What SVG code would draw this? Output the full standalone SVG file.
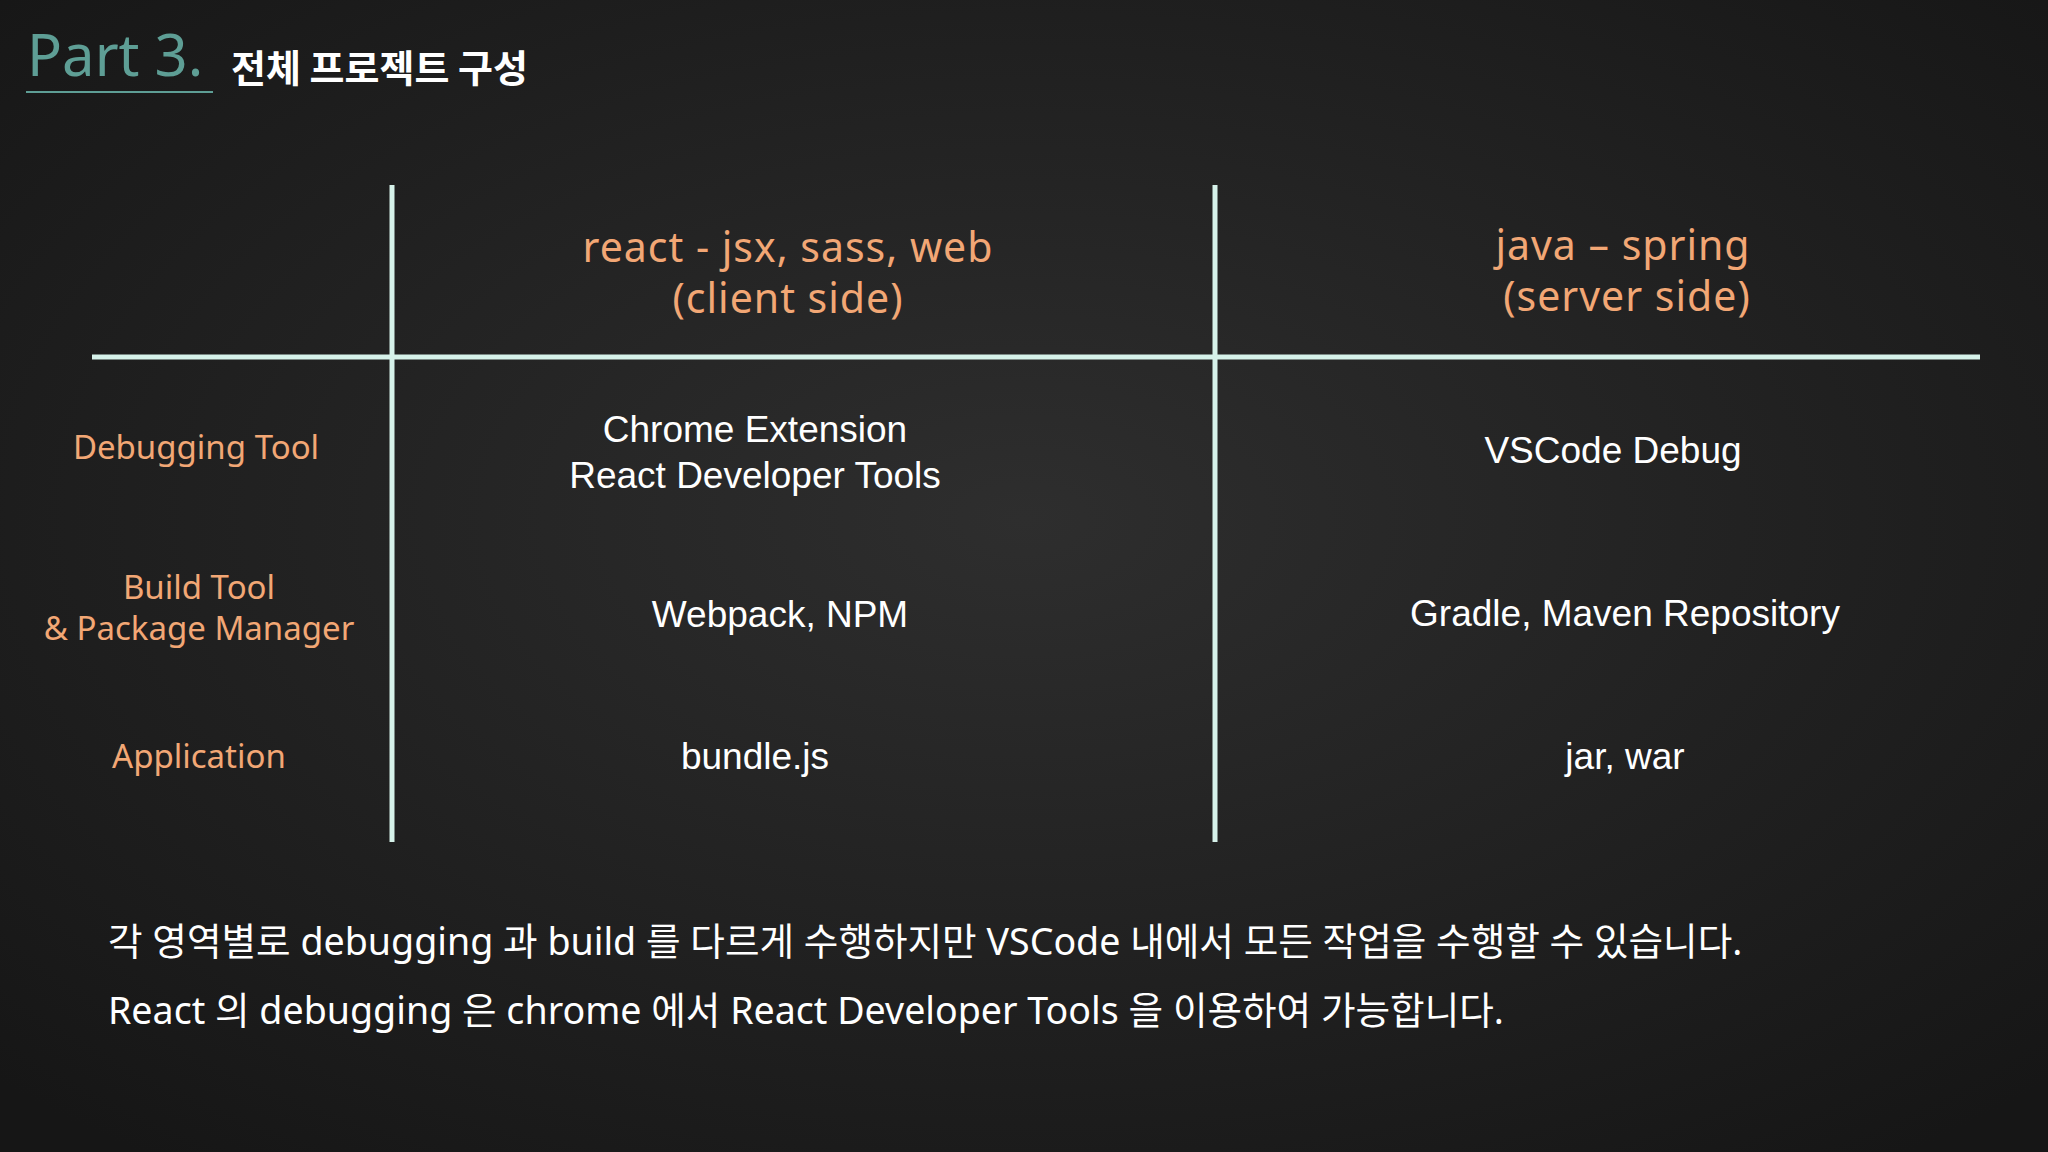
<svg xmlns="http://www.w3.org/2000/svg" width="2048" height="1152" viewBox="0 0 2048 1152">
<defs>
<radialGradient id="bg" cx="50%" cy="45%" r="70%">
<stop offset="0" stop-color="#2e2e2e"/><stop offset="1" stop-color="#161616"/>
</radialGradient>
<style>
.o{font-family:"Noto Sans","Noto Sans CJK KR",sans-serif;fill:#f2a775;text-anchor:middle}
.w{font-family:"Liberation Sans","Noto Sans CJK KR",sans-serif;fill:#ffffff;text-anchor:middle;font-size:37px}
.b{font-family:"Noto Sans","Noto Sans CJK KR",sans-serif;fill:#ffffff;font-size:37.6px}
.ln{stroke:#d6f2ea;stroke-width:5}
</style>
</defs>
<rect width="2048" height="1152" fill="url(#bg)"/>
<g id="title">
<text x="27" y="76" font-family="Noto Sans, sans-serif" font-size="58" fill="#5e9e95">Part 3.</text>
<line x1="26" y1="92" x2="213" y2="92" stroke="#5e9e95" stroke-width="2"/>
<text x="231" y="82" font-family="Noto Sans CJK KR, sans-serif" font-size="38" font-weight="bold" fill="#ffffff">전체 프로젝트 구성</text>
</g>
<g id="grid">
<line class="ln" x1="392" y1="185" x2="392" y2="842"/>
<line class="ln" x1="1215" y1="185" x2="1215" y2="842"/>
<line class="ln" x1="92" y1="357" x2="1980" y2="357"/>
</g>
<g id="headers">
<text class="o" x="788" y="262" font-size="41" letter-spacing="1">react - jsx, sass, web</text>
<text class="o" x="788" y="313" font-size="41" letter-spacing="1">(client side)</text>
<text class="o" x="1623" y="260" font-size="41" letter-spacing="1">java – spring</text>
<text class="o" x="1627" y="311" font-size="41" letter-spacing="1">(server side)</text>
</g>
<g id="rows">
<text class="o" x="196" y="459" font-size="33">Debugging Tool</text>
<text class="o" x="199" y="599" font-size="33">Build Tool</text>
<text class="o" x="199" y="640" font-size="33">&amp; Package Manager</text>
<text class="o" x="199" y="768" font-size="33">Application</text>
</g>
<g id="cells">
<text class="w" x="755" y="442">Chrome Extension</text>
<text class="w" x="755" y="488">React Developer Tools</text>
<text class="w" x="1613" y="463">VSCode Debug</text>
<text class="w" x="780" y="627">Webpack, NPM</text>
<text class="w" x="1625" y="626">Gradle, Maven Repository</text>
<text class="w" x="755" y="769">bundle.js</text>
<text class="w" x="1625" y="769">jar, war</text>
</g>
<g id="notes">
<text class="b" x="108" y="955">각 영역별로 debugging 과 build 를 다르게 수행하지만 VSCode 내에서 모든 작업을 수행할 수 있습니다.</text>
<text class="b" x="108" y="1024">React 의 debugging 은 chrome 에서 React Developer Tools 을 이용하여 가능합니다.</text>
</g>
</svg>
